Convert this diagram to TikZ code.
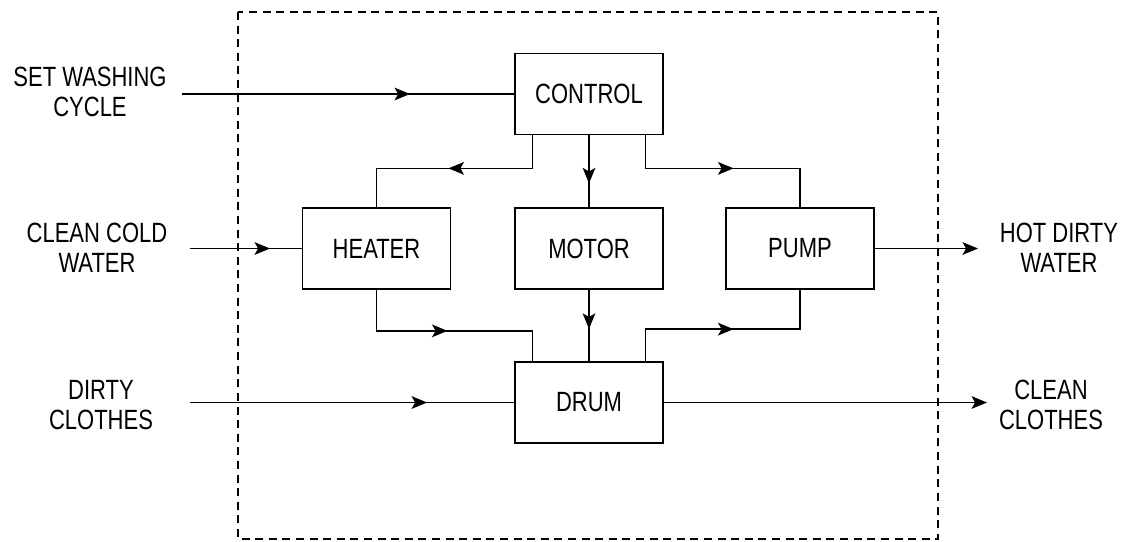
\documentclass[tikz,border=0pt]{standalone}
\usepackage{fontspec}
\setmainfont{Liberation Sans}[FakeStretch=0.79]
\usetikzlibrary{arrows.meta,calc,decorations.markings}
\newcommand{\lblfont}{\fontsize{19.8}{21.3}\selectfont}

\begin{document}
\begin{tikzpicture}[x=0.025cm, y=-0.025cm,
  wire/.style   = {line width=1.2pt, line join=miter},
  endarr/.style = {wire, -{Stealth[length=11pt, width=9pt, inset=2.5pt]}},
  midarr/.style = {wire, postaction={decorate},
                   decoration={markings, mark=at position #1 with
                     {\arrow{Stealth[length=11pt, width=9pt, inset=2.5pt]}}}},
  blk/.style    = {rectangle, draw, line width=1.2pt, inner sep=0pt,
                   minimum width=3.7cm, minimum height=2.025cm, font=\lblfont},
  lbl/.style    = {font=\lblfont, align=center, inner sep=0pt}
]
\useasboundingbox (0,0) rectangle (1128,541);

%% system boundary
\draw[line width=1pt, dash pattern=on 0.2cm off 0.14cm] (238,12) rectangle (938,539);

%% blocks
\node[blk] (ctrl)  at (589,94)      {CONTROL};
\node[blk] (heat)  at (376.5,248.5) {HEATER};
\node[blk] (motor) at (589,248.5)   {MOTOR};
\node[blk] (pump)  at (800,248.5)   {PUMP};
\node[blk] (drum)  at (589,402.5)   {DRUM};

%% inputs / outputs
\node[lbl] (cycle) at (90,92)    {SET WASHING\\CYCLE};
\node[lbl] (coldw) at (97,248)   {CLEAN COLD\\WATER};
\node[lbl] (dirty) at (101,405)  {DIRTY\\CLOTHES};
\node[lbl] (hotw)  at (1059,248) {HOT DIRTY\\WATER};
\node[lbl] (clean) at (1051,405) {CLEAN\\CLOTHES};

\coordinate (cycin)    at (182,94);
\coordinate (coldin)   at (190,248.5);
\coordinate (dirtyin)  at (190,402.5);
\coordinate (hotout)   at (978,248.5);
\coordinate (cleanout) at (987,402.5);

%% connectors
\draw[midarr=5.7cm]   (cycin) -- (ctrl.west);
\draw[midarr=2.925cm] ($(ctrl.south)+(-56.5,0)$) -- ++(0,33) -| (heat.north);
\draw[midarr=1.2cm]   (ctrl.south) -- (motor.north);
\draw[midarr=3.025cm] ($(ctrl.south)+(56.5,0)$) -- ++(0,33) -| (pump.north);
\draw[midarr=2cm]     (coldin) -- (heat.west);
\draw[endarr]         (pump.east) -- (hotout);
\draw[midarr=2.8cm]   (heat.south) -- ++(0,41) -| ($(drum.north)+(-56.5,0)$);
\draw[midarr=0.975cm] (motor.south) -- (drum.north);
\draw[midarr=3cm]     ($(drum.north)+(56.5,0)$) -- ++(0,-32) -| (pump.south);
\draw[midarr=5.925cm] (dirtyin) -- (drum.west);
\draw[endarr]         (drum.east) -- (cleanout);

\end{tikzpicture}
\end{document}
